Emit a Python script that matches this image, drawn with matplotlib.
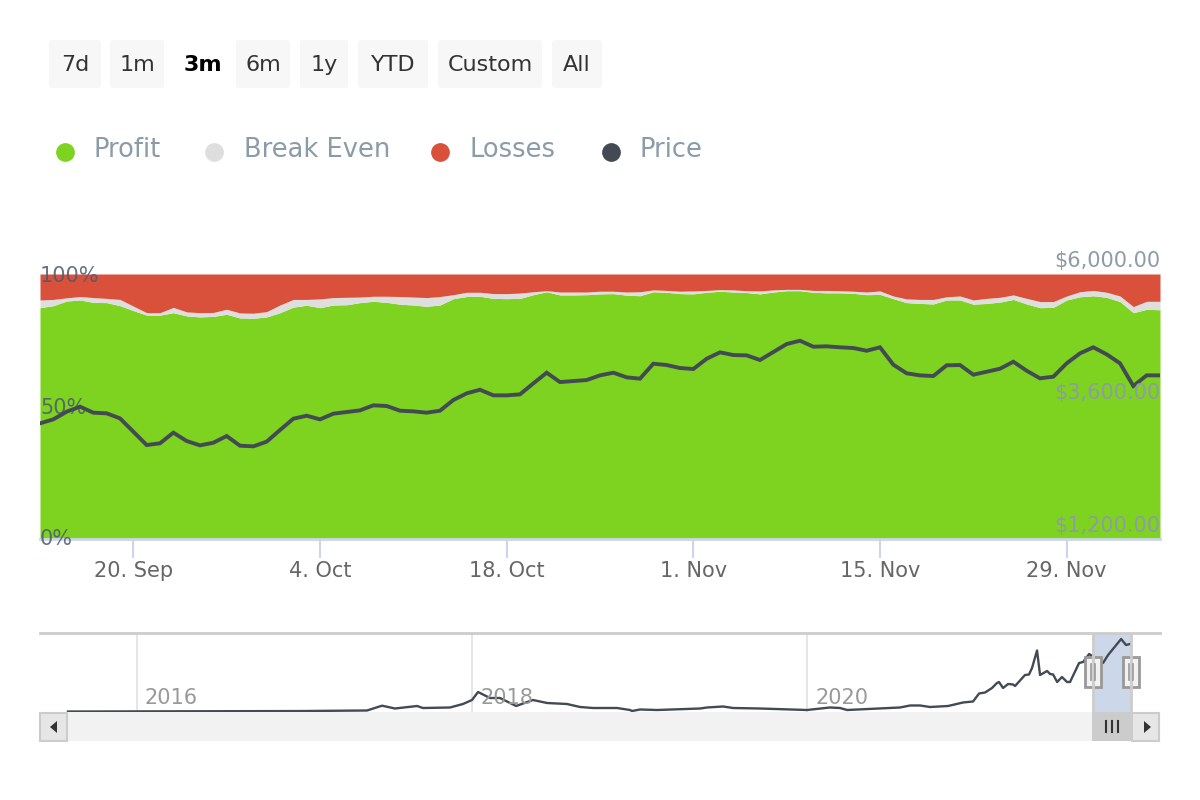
import matplotlib
matplotlib.use('Agg')
import matplotlib.pyplot as plt
import matplotlib.dates as mdates
from matplotlib.patches import FancyBboxPatch, Rectangle, Polygon
import numpy as np

# daily values, 13 Sep - 6 Dec 2021
start_date = np.datetime64('2021-09-13')
profit_top = [87.3, 88.05, 89.8, 90.2, 89.3, 89.2, 88.05, 86.2, 84.5, 84.5,
              85.4, 84.2, 83.8, 84.0, 84.8, 83.4, 83.3, 83.8, 85.4, 87.5,
              88.2, 87.3, 88.3, 88.4, 89.2, 89.7, 89.3, 88.6, 88.3, 87.8,
              88.3, 90.7, 91.5, 91.6, 90.8, 90.7, 90.8, 92.2, 93.3, 92.1,
              92.1, 92.2, 92.5, 92.6, 92.0, 91.8, 93.3, 93.1, 92.6, 92.5,
              93.1, 93.5, 93.2, 93.0, 92.5, 93.2, 93.7, 93.7, 93.1, 92.9,
              92.9, 92.7, 92.2, 92.3, 90.7, 89.2, 88.9, 88.7, 90.2, 90.2,
              88.6, 88.9, 89.4, 90.4, 88.7, 87.3, 87.4, 90.2, 91.4, 91.8,
              91.2, 89.6, 85.4, 86.7, 86.5]
even_top = [90.2, 90.4, 91.0, 91.5, 91.1, 90.8, 90.4, 87.9, 85.4, 85.4,
            87.4, 85.7, 85.4, 85.5, 86.7, 85.3, 85.2, 85.8, 88.3, 90.4,
            90.4, 90.6, 91.1, 91.2, 91.3, 91.6, 91.6, 91.5, 91.3, 91.1,
            91.5, 92.2, 93.1, 93.1, 92.6, 92.6, 92.8, 93.3, 93.7, 93.2,
            93.2, 93.2, 93.5, 93.5, 93.2, 93.3, 94.0, 93.8, 93.5, 93.6,
            93.8, 94.1, 94.0, 93.7, 93.6, 94.0, 94.2, 94.2, 93.8, 93.8,
            93.7, 93.5, 93.2, 93.6, 91.7, 90.6, 90.4, 90.4, 91.4, 91.7,
            90.2, 90.8, 91.2, 92.1, 90.8, 89.6, 89.6, 91.7, 93.3, 93.8,
            93.1, 91.7, 87.7, 89.7, 89.7]
price = [3295, 3367, 3506, 3597, 3488, 3476, 3385, 3144, 2902, 2933,
         3126, 2975, 2896, 2944, 3065, 2890, 2878, 2963, 3174, 3379,
         3433, 3367, 3470, 3500, 3530, 3621, 3609, 3524, 3512, 3488,
         3524, 3717, 3838, 3904, 3802, 3802, 3820, 4019, 4212, 4043,
         4061, 4079, 4164, 4212, 4128, 4104, 4375, 4351, 4297, 4279,
         4465, 4581, 4532, 4526, 4442, 4587, 4731, 4792, 4683, 4690,
         4672, 4659, 4610, 4672, 4357, 4201, 4164, 4152, 4346, 4351,
         4176, 4230, 4284, 4411, 4248, 4110, 4140, 4382, 4563, 4672,
         4545, 4382, 3971, 4164, 4164]
tick_dates = ['2021-09-20', '2021-10-04', '2021-10-18', '2021-11-01', '2021-11-15', '2021-11-29']
tick_labels = ['20. Sep', '4. Oct', '18. Oct', '1. Nov', '15. Nov', '29. Nov']

# navigator series, x in decimal years
nav_years = [2015.588, 2016.973, 2017.373, 2017.463, 2017.540, 2017.672, 2017.707, 2017.869,
             2017.946, 2018.000, 2018.036, 2018.107, 2018.167, 2018.263, 2018.364, 2018.448,
             2018.567, 2018.645, 2018.722, 2018.866, 2018.943, 2018.955, 2019.003, 2019.104,
             2019.361, 2019.403, 2019.499, 2019.558, 2019.719, 2020.000, 2020.137, 2020.197,
             2020.239, 2020.555, 2020.615, 2020.675, 2020.734, 2020.842, 2020.931, 2020.991,
             2021.027, 2021.063, 2021.104, 2021.134, 2021.146, 2021.170, 2021.200, 2021.230,
             2021.242, 2021.301, 2021.325, 2021.343, 2021.373, 2021.391, 2021.433, 2021.451,
             2021.469, 2021.493, 2021.522, 2021.552, 2021.570, 2021.624, 2021.648, 2021.684,
             2021.767, 2021.797, 2021.875, 2021.904, 2021.928]
nav_price = [30, 60, 95, 397, 220, 378, 252, 284,
             504, 756, 1260, 882, 882, 378, 756, 567,
             504, 315, 252, 252, 126, 63, 158, 126,
             220, 284, 347, 252, 220, 126, 284, 252,
             126, 284, 410, 410, 315, 378, 599, 662,
             1166, 1229, 1512, 1827, 1890, 1512, 1764, 1733,
             1638, 2331, 2363, 2772, 3875, 2331, 2583, 2394,
             2363, 1890, 2205, 1890, 1890, 3087, 3150, 3654,
             3087, 3591, 4599, 4221, 4284]
nav_ticks = [2016, 2018, 2020]
nav_labels = ['2016', '2018', '2020']

buttons = ['7d', '1m', '6m', '1y', 'YTD', 'Custom', 'All']
button_left = [49, 110, 236, 300, 358, 438, 552]
button_right = [101, 164, 290, 348, 428, 542, 602]
legend_names = ['Profit', 'Break Even', 'Losses', 'Price']

GREEN = '#7dd31f'
GREY = '#dedede'
RED = '#d9513a'
DARK = '#434a54'
LEGEND_COLORS = [GREEN, GREY, RED, DARK]

W, H = 1200, 800
plt.rcParams['font.family'] = ['DejaVu Sans']
fig = plt.figure(figsize=(12, 8), dpi=100)


def px_axes(left, top, right, bottom, **kw):
    return fig.add_axes([left / W, 1 - bottom / H, (right - left) / W, (bottom - top) / H], **kw)


# main chart
dates = start_date + np.arange(len(price))
dates = dates.astype('datetime64[D]')
ax = px_axes(40, 274, 1160, 539)
ax.fill_between(dates, 0, profit_top, color=GREEN, lw=0)
ax.fill_between(dates, profit_top, even_top, color=GREY, lw=0)
ax.fill_between(dates, even_top, 100, color=RED, lw=0)
ax.set_xlim(dates[0], dates[-1])
ax.set_ylim(0, 100)
ax.set_yticks([])
for s in ['top', 'left', 'right']:
    ax.spines[s].set_visible(False)
ax.spines['bottom'].set_color('#ccd6eb')
ax.spines['bottom'].set_linewidth(2)
ax.set_xticks(mdates.date2num(np.array(tick_dates, dtype='datetime64[D]')))
ax.set_xticklabels(tick_labels, fontsize=15, color='#666666')
ax.tick_params(axis='x', length=13.5, width=1.5, color='#ccd6eb', pad=2)
for pct, lab, off in [(100, '100%', -8), (50, '50%', -8), (0, '0%', -6)]:
    ax.annotate(lab, (0, pct), xycoords=('axes fraction', 'data'), xytext=(0, off * 0.72),
                textcoords='offset points', ha='left', va='baseline', fontsize=15,
                color='#4d5a6b', alpha=0.85, annotation_clip=False)

ax2 = ax.twinx()
ax2.plot(dates, price, color=DARK, lw=2.8, solid_joinstyle='miter')
ax2.set_ylim(1200, 6000)
ax2.set_yticks([])
for s in ax2.spines.values():
    s.set_visible(False)
for val, lab in [(6000, '$6,000.00'), (3600, '$3,600.00'), (1200, '$1,200.00')]:
    ax2.annotate(lab, (1, val), xycoords=('axes fraction', 'data'), xytext=(0, 7 * 0.72),
                 textcoords='offset points', ha='right', va='baseline', fontsize=15,
                 color='#8f9ba6', annotation_clip=False)

# navigator
nav = px_axes(40, 633, 1160, 712)
nav.set_xlim(2015.421, 2022.107)
nav.set_ylim(0, 4977)
nav.plot(nav_years, nav_price, color=DARK, lw=1.7)
nav.axvspan(2021.707, 2021.934, color='#cdd7ea', lw=0, zorder=0)
nav.set_xticks(nav_ticks)
nav.set_yticks([])
nav.tick_params(length=0, labelbottom=False)
nav.xaxis.grid(True, color='#e6e6e6', lw=1.5)
nav.set_axisbelow(True)
for s in ['left', 'right', 'bottom']:
    nav.spines[s].set_visible(False)
nav.spines['top'].set_color('#cccccc')
nav.spines['top'].set_linewidth(2)
for yr, lab in zip(nav_ticks, nav_labels):
    nav.annotate(lab, (yr, 0), xycoords='data', xytext=(8 * 0.72, 8 * 0.72), textcoords='offset points',
                 ha='left', va='baseline', fontsize=15, color='#999999', annotation_clip=False)

# buttons, legend, scrollbar are drawn in pixel coordinates
ui = fig.add_axes([0, 0, 1, 1], zorder=10)
ui.set_xlim(0, W)
ui.set_ylim(H, 0)
ui.axis('off')
ui.patch.set_alpha(0)

for name, x0, x1 in zip(buttons, button_left, button_right):
    ui.add_patch(FancyBboxPatch((x0 + 3, 43), x1 - x0 - 6, 42, boxstyle='round,pad=3,rounding_size=3',
                                fc='#f7f7f7', ec='none'))
    ui.text((x0 + x1) / 2, 65, name, ha='center', va='center', fontsize=16, color='#333333')
ui.text(203, 65, '3m', ha='center', va='center', fontsize=16, color='black', fontweight='bold')

legend_marker_x = [65, 214, 440, 611]
legend_text_x = [94, 244, 470, 640]
for name, col, mx, tx in zip(legend_names, LEGEND_COLORS, legend_marker_x, legend_text_x):
    ui.plot([mx], [152], 'o', ms=13.5, color=col, mec='none')
    ui.text(tx, 150, name, ha='left', va='center', fontsize=18.5, color='#8c9ba8')

# selection borders
ui.plot([1093, 1093], [634, 712], color='#cccccc', lw=2)
ui.plot([1131, 1131], [634, 712], color='#cccccc', lw=2)

# scrollbar
ui.add_patch(Rectangle((40, 712), 1120, 29, fc='#f2f2f2', ec='none'))
ui.add_patch(Rectangle((40, 713), 27, 28, fc='#e6e6e6', ec='#cccccc', lw=1.5))
ui.add_patch(Rectangle((1132, 713), 27, 28, fc='#e6e6e6', ec='#cccccc', lw=1.5))
ui.add_patch(Rectangle((1092, 712), 40, 29, fc='#cccccc', ec='none'))
ui.add_patch(Polygon([[57, 721], [57, 733], [50, 727]], fc='#333333', ec='none'))
ui.add_patch(Polygon([[1144, 721], [1144, 733], [1151, 727]], fc='#333333', ec='none'))
for x in [1106, 1112, 1118]:
    ui.plot([x, x], [721, 732], color='#333333', lw=1.5)

# navigator handles
for x0 in [1085, 1123]:
    ui.add_patch(Rectangle((x0, 657), 16, 30, fc='#f2f2f2', ec='#999999', lw=2))
    for dx in [6, 10]:
        ui.plot([x0 + dx, x0 + dx], [664, 680], color='#999999', lw=1.2)

plt.savefig('out.png', dpi=100)
